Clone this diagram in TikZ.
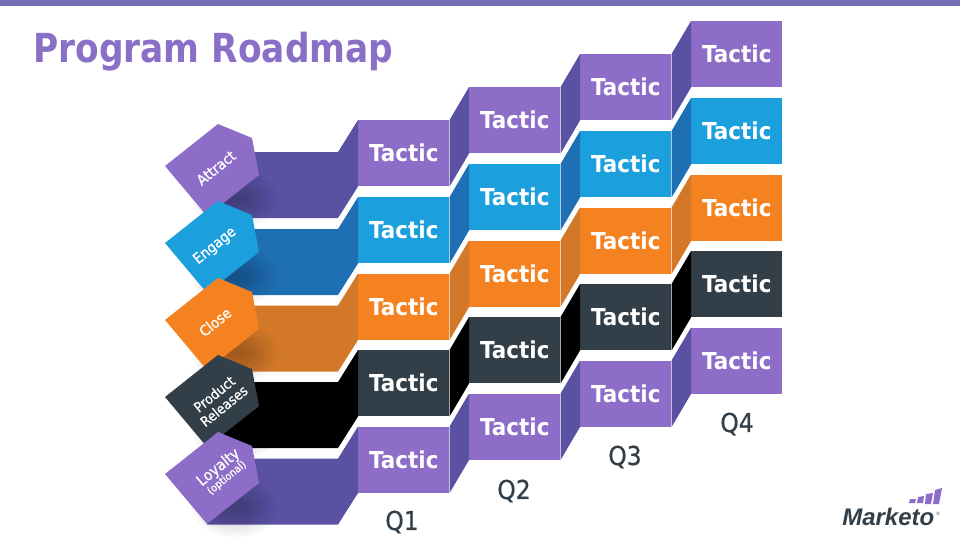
\documentclass[tikz,border=0pt]{standalone}
\usepackage{fontspec}
\setmainfont{DejaVu Sans}[FakeStretch=0.86]
\newfontfamily\logofont{Liberation Sans}
\newfontfamily\tacticfont{DejaVu Sans}[FakeStretch=0.92]
\newfontfamily\pentfont{DejaVu Sans}[FakeStretch=0.9,FakeBold=0.8]
\newfontfamily\qfont{DejaVu Sans}[FakeStretch=0.9,FakeBold=0.7]
\usetikzlibrary{calc}
\definecolor{barc}{HTML}{7470B5}
\definecolor{titlec}{HTML}{8A6FC7}
\definecolor{purplec}{HTML}{8D6DC8}
\definecolor{purpleside}{HTML}{5A51A3}
\definecolor{bluec}{HTML}{1CA0DD}
\definecolor{blueside}{HTML}{1F6FB5}
\definecolor{orangec}{HTML}{F58220}
\definecolor{orangeside}{HTML}{D27828}
\definecolor{darkc}{HTML}{333F48}
\definecolor{darkside}{HTML}{000000}
\tikzset{
  tacticbox/.style={anchor=north west,minimum width=68.25pt,minimum height=49.5pt,inner sep=0pt,text=white,font=\tacticfont\fontsize{17.5}{18}\selectfont\bfseries},
  pentlabel/.style={rotate=39,text=white,align=center,inner sep=0pt,font=\pentfont\fontsize{11}{11}\selectfont},
  qlabel/.style={text=darkc,inner sep=0pt,font=\qfont\fontsize{19.5}{20}\selectfont},
}
\begin{document}
\begin{tikzpicture}[x=0.75pt,y=-0.75pt]
\useasboundingbox (0,0) rectangle (960,540);
\fill[barc] (0,0) rectangle (960,6);
\node[anchor=base west,inner sep=0pt,text=titlec,font=\fontsize{30}{32}\selectfont\bfseries] (title) at (33,62) {Program Roadmap};
% tactic boxes and their side faces
\foreach \r/\c/\s/\top in {1/purplec/purpleside/120,2/bluec/blueside/197,3/orangec/orangeside/273.5,4/darkc/darkside/350,5/purplec/purpleside/426.5}{
  \node[tacticbox,fill=\c] (b\r1) at (358,\top) {Tactic};
  \node[tacticbox,fill=\c] (b\r2) at (469,\top-33) {Tactic};
  \node[tacticbox,fill=\c] (b\r3) at (580,\top-66) {Tactic};
  \node[tacticbox,fill=\c] (b\r4) at (691,\top-99) {Tactic};
  \foreach \a/\b in {1/2,2/3,3/4}{
    \fill[\s] (b\r\a.north east) -- (b\r\b.north west) -- (b\r\b.south west) -- (b\r\a.south east) -- cycle;
  }
}
% bands, shadows, pentagons
\foreach \r/\c/\s/\t in {1/purplec/purpleside/124,2/bluec/blueside/201,3/orangec/orangeside/278,4/darkc/darkside/355,5/purplec/purpleside/432}{
  \fill[\s] (b\r1.north west) -- ++(-20,32) -- ++(-108,0) -- ++(-23,66) -- ++(131,0) -- (b\r1.south west) -- cycle;
  \begin{scope}[shift={(0,\t)}]
    \foreach \k in {0,...,9}{
      \fill[black,opacity=0.022] (235,75) ellipse ({43-3.5*\k} and {30-2.8*\k});
    }
    \fill[\c] (218,0) -- ++(34,14) -- ++(7,37) -- ++(-52,41) -- ++(-42,-50) -- cycle;
  \end{scope}
}
\node[pentlabel] (p1) at (216,168) {Attract};
\node[pentlabel] (p2) at (215,246) {Engage};
\node[pentlabel] (p3) at (215,322) {Close};
\node[pentlabel,font=\pentfont\fontsize{10.5}{11.5}\selectfont] (p4) at (219,400) {Product\\Releases};
\node[pentlabel,align=center] (p5) at (222,472) {\fontsize{11.5}{11}\selectfont Loyalty\\[-2pt]\fontsize{8}{9}\selectfont (optional)};
\node[qlabel] (q1) at (402,522) {Q1};
\node[qlabel] (q2) at (514,491) {Q2};
\node[qlabel] (q3) at (625,457) {Q3};
\node[qlabel] (q4) at (737,424) {Q4};
% logo
\node[anchor=base west,inner sep=0pt,text=darkc,font=\logofont\fontsize{18}{20}\selectfont\bfseries\itshape] (logo) at (842,525) {Marketo};
\node[anchor=base west,inner sep=0pt,text=darkc,font=\logofont\fontsize{3.5}{4}\selectfont] (reg) at (936,515) {®};
\fill[purplec] (910,499) -- (916,499) -- (915,503) -- (909,503) -- cycle;
\fill[purplec] (918,497) -- (924,496) -- (923,503) -- (917,503) -- cycle;
\fill[purplec] (926,494) -- (933,493) -- (931,504) -- (925,504) -- cycle;
\fill[purplec] (935,490) -- (942,488) -- (939,504) -- (933,504) -- cycle;
\end{tikzpicture}
\end{document}
